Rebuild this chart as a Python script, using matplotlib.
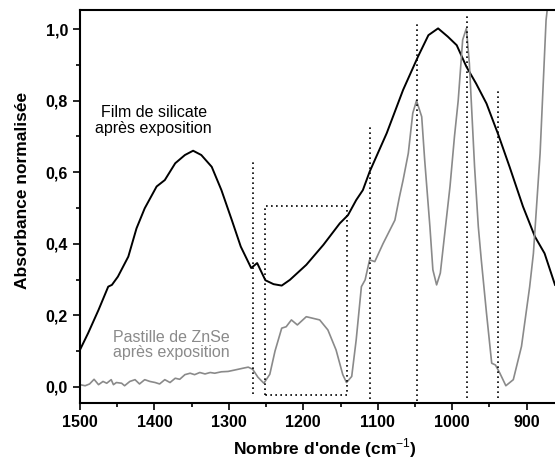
import matplotlib
matplotlib.use("Agg")
import matplotlib.pyplot as plt
from matplotlib.ticker import MultipleLocator, FuncFormatter

plt.rcParams['font.family'] = ['Liberation Sans', 'DejaVu Sans']
plt.rcParams['mathtext.fontset'] = 'custom'
plt.rcParams['mathtext.rm'] = 'Liberation Sans'
plt.rcParams['mathtext.bf'] = 'Liberation Sans:bold'

# spectre du film de silicate (nombre d'onde, absorbance normalisée)
film_wn = [1500, 1489, 1475, 1462, 1457, 1449, 1435, 1424, 1413, 1397, 1386, 1372,
           1359, 1348, 1337, 1323, 1310, 1296, 1284, 1270, 1262, 1251, 1240, 1229,
           1218, 1196, 1173, 1151, 1140, 1129, 1120, 1111, 1088, 1066, 1046, 1032,
           1019, 1006, 994, 981, 968, 954, 938, 923, 905, 889, 876, 862]
film_abs = [0.103, 0.15, 0.215, 0.28, 0.285, 0.308, 0.364, 0.443, 0.499, 0.56, 0.578, 0.625,
            0.648, 0.66, 0.648, 0.615, 0.55, 0.466, 0.392, 0.332, 0.346, 0.298, 0.287, 0.283,
            0.299, 0.341, 0.397, 0.457, 0.48, 0.522, 0.55, 0.601, 0.709, 0.83, 0.923, 0.983,
            1.002, 0.979, 0.955, 0.895, 0.848, 0.792, 0.704, 0.615, 0.504, 0.42, 0.373, 0.285]

# spectre de la pastille de ZnSe
znse_wn = [1500, 1493, 1487, 1481, 1475, 1469, 1464, 1458, 1455, 1451, 1444, 1440,
           1433, 1426, 1420, 1413, 1406, 1399, 1393, 1386, 1379, 1372, 1366, 1359,
           1352, 1346, 1339, 1332, 1325, 1319, 1310, 1301, 1292, 1281, 1274, 1268,
           1261, 1253, 1245, 1238, 1229, 1223, 1216, 1208, 1196, 1178, 1167, 1156,
           1147, 1142, 1135, 1129, 1122, 1117, 1111, 1104, 1093, 1077, 1071, 1066,
           1059, 1053, 1048, 1041, 1037, 1030, 1026, 1021, 1016, 1010, 1003, 997,
           992, 986, 981, 977, 970, 965, 961, 954, 947, 942, 936, 928,
           918, 907, 896, 891, 882, 874, 870]
znse_abs = [0.006, 0.003, 0.008, 0.021, 0.006, 0.015, 0.01, 0.02, 0.006, 0.012, 0.01, 0.003,
            0.015, 0.02, 0.008, 0.02, 0.015, 0.012, 0.008, 0.02, 0.012, 0.024, 0.021, 0.034,
            0.038, 0.034, 0.04, 0.036, 0.04, 0.038, 0.042, 0.043, 0.047, 0.052, 0.055, 0.049,
            0.027, 0.01, 0.035, 0.1, 0.164, 0.168, 0.187, 0.173, 0.196, 0.187, 0.159, 0.103,
            0.034, 0.012, 0.029, 0.131, 0.28, 0.299, 0.355, 0.35, 0.40, 0.466, 0.53, 0.578,
            0.653, 0.765, 0.80, 0.755, 0.634, 0.448, 0.327, 0.285, 0.318, 0.43, 0.56, 0.70,
            0.80, 0.97, 1.002, 0.904, 0.615, 0.448, 0.355, 0.206, 0.066, 0.061, 0.038, 0.003,
            0.02, 0.113, 0.28, 0.373, 0.653, 1.025, 1.10]

# repères verticaux des bandes
band_wn = [1268, 1111, 1047, 980, 938]
band_top = [0.634, 0.73, 1.014, 1.036, 0.835]
band_bottom = [-0.02, -0.035, -0.04, -0.03, -0.03]

# zone encadrée
box_wn = [1252, 1141]
box_abs = [-0.022, 0.506]

fig = plt.figure(figsize=(5.55, 4.61), dpi=100)
ax = fig.add_axes([0.144, 0.126, 0.856, 0.852])

ax.plot(film_wn, film_abs, color='black', lw=1.4)
ax.plot(znse_wn, znse_abs, color='#8a8a8a', lw=1.2)

for wn, top, bot in zip(band_wn, band_top, band_bottom):
    ax.plot([wn, wn], [bot, top], color='black', ls=(0, (1, 2)), lw=1.2)

bx = [box_wn[0], box_wn[0], box_wn[1], box_wn[1], box_wn[0]]
by = [box_abs[0], box_abs[1], box_abs[1], box_abs[0], box_abs[0]]
ax.plot(bx, by, color='black', ls=(0, (1, 2)), lw=1.2)

ax.text(1401, 0.745, "Film de silicate\naprès exposition", ha='center', va='center',
        fontsize=11.5, color='black', linespacing=1.05)
ax.text(1456, 0.117, "Pastille de ZnSe\naprès exposition", ha='left', va='center',
        fontsize=11.5, color='#8a8a8a', linespacing=1.05)

ax.set_xlim(1500, 862)
ax.set_ylim(-0.045, 1.053)

ax.xaxis.set_major_locator(MultipleLocator(100))
ax.xaxis.set_minor_locator(MultipleLocator(50))
ax.yaxis.set_major_locator(MultipleLocator(0.2))
ax.yaxis.set_minor_locator(MultipleLocator(0.1))
ax.yaxis.set_major_formatter(FuncFormatter(lambda v, p: f"{v:.1f}".replace('.', ',').replace('-0,0', '0,0')))

ax.tick_params(which='both', direction='out', width=1.2, top=False, right=False)
ax.tick_params(which='major', length=5, labelsize=11.5)
ax.tick_params(which='minor', length=3)
for lab in ax.get_xticklabels() + ax.get_yticklabels():
    lab.set_fontweight('bold')

for s in ['left', 'bottom', 'top']:
    ax.spines[s].set_linewidth(1.5)
ax.spines['right'].set_visible(False)

ax.set_xlabel("Nombre d'onde (cm$^{\\mathrm{-1}}$)", fontsize=12.5, fontweight='bold')
ax.set_ylabel("Absorbance normalisée", fontsize=12.5, fontweight='bold')
ax.xaxis.set_label_coords(0.515, -0.085)
ax.yaxis.set_label_coords(-0.105, 0.54)

fig.savefig("out.png", dpi=100)
